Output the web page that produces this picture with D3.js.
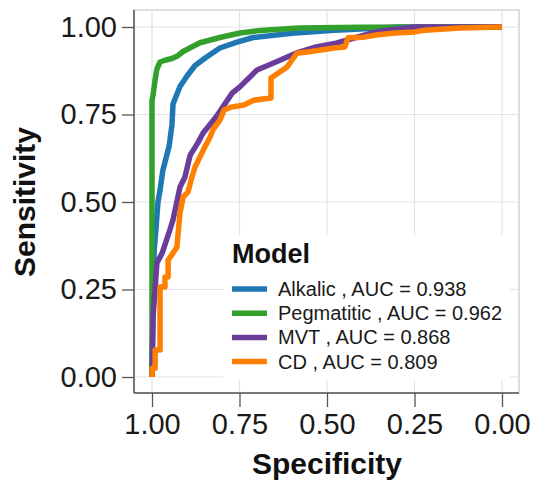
<!DOCTYPE html>
<html>
<head>
<meta charset="utf-8">
<script src="https://cdn.jsdelivr.net/npm/d3@7"></script>
<style>
  body { margin: 0; background: #fff; }
  svg { display: block; font-family: "Liberation Sans", Arial, sans-serif; }
</style>
</head>
<body>
<svg id="chart" width="533" height="484"></svg>
<script>
// tick values for both axes
const ticks = [0, 0.25, 0.5, 0.75, 1];

// model names and AUC values for the legend
const models = ["Alkalic", "Pegmatitic", "MVT", "CD"];
const aucs = [0.938, 0.962, 0.868, 0.809];
const colors = ["#1f78b4", "#33a02c", "#6a3d9a", "#ff7f00"];

// ROC points (specificity, sensitivity)
const alkalicSpec = [1, 0.997, 0.994, 0.989, 0.983, 0.977, 0.969, 0.951, 0.943, 0.94, 0.92, 0.9, 0.877, 0.843, 0.806, 0.757, 0.711, 0.6, 0.49, 0.35, 0.3, 0];
const alkalicSens = [0, 0.2, 0.36, 0.42, 0.5, 0.534, 0.59, 0.66, 0.72, 0.78, 0.83, 0.86, 0.89, 0.915, 0.94, 0.957, 0.97, 0.982, 0.99, 0.997, 1, 1];

const pegSpec = [1, 1, 0.997, 0.991, 0.986, 0.977, 0.963, 0.943, 0.926, 0.911, 0.863, 0.806, 0.749, 0.691, 0.58, 0.4, 0];
const pegSens = [0, 0.79, 0.805, 0.85, 0.88, 0.9, 0.905, 0.91, 0.918, 0.93, 0.955, 0.97, 0.983, 0.99, 0.997, 0.999, 1];

const mvtSpec = [1, 0.997, 0.986, 0.971, 0.949, 0.94, 0.92, 0.906, 0.891, 0.869, 0.854, 0.817, 0.771, 0.749, 0.7, 0.646, 0.589, 0.531, 0.474, 0.417, 0.36, 0.331, 0.25, 0];
const mvtSens = [0, 0.17, 0.326, 0.354, 0.42, 0.449, 0.543, 0.571, 0.634, 0.669, 0.697, 0.743, 0.811, 0.829, 0.877, 0.9, 0.925, 0.943, 0.954, 0.97, 0.986, 0.99, 1, 1];

const cdSpec = [1, 1, 0.991, 0.991, 0.977, 0.977, 0.963, 0.963, 0.954, 0.954, 0.94, 0.929, 0.92, 0.911, 0.897, 0.886, 0.877, 0.863, 0.849, 0.834, 0.826, 0.806, 0.794, 0.774, 0.737, 0.709, 0.66, 0.66, 0.614, 0.586, 0.546, 0.48, 0.449, 0.44, 0.394, 0.36, 0.306, 0.249, 0.22, 0.12, 0];
const cdSens = [0, 0.025, 0.025, 0.077, 0.077, 0.257, 0.257, 0.286, 0.286, 0.334, 0.354, 0.371, 0.469, 0.514, 0.529, 0.571, 0.6, 0.629, 0.657, 0.686, 0.706, 0.734, 0.763, 0.771, 0.777, 0.791, 0.797, 0.854, 0.886, 0.925, 0.93, 0.94, 0.943, 0.969, 0.971, 0.977, 0.983, 0.986, 0.991, 0.997, 1];

const series = [
  { spec: alkalicSpec, sens: alkalicSens },
  { spec: pegSpec, sens: pegSens },
  { spec: mvtSpec, sens: mvtSens },
  { spec: cdSpec, sens: cdSens }
];

const svg = d3.select("#chart");

// panel edges
const panel = { left: 134, top: 10, right: 519, bottom: 393 };

const x = d3.scaleLinear().domain([1, 0]).range([152, 502]);
const y = d3.scaleLinear().domain([0, 1]).range([377, 27]);

// panel border (light) 
svg.append("rect")
  .attr("x", panel.left).attr("y", panel.top)
  .attr("width", panel.right - panel.left).attr("height", panel.bottom - panel.top)
  .attr("fill", "#fff").attr("stroke", "#c8c8c8").attr("stroke-width", 1.2);

// grid lines
svg.append("g").selectAll("line").data(ticks).join("line")
  .attr("x1", d => x(d)).attr("x2", d => x(d))
  .attr("y1", panel.top).attr("y2", panel.bottom)
  .attr("stroke", "#e3e3e3").attr("stroke-width", 1.2);
svg.append("g").selectAll("line").data(ticks).join("line")
  .attr("y1", d => y(d)).attr("y2", d => y(d))
  .attr("x1", panel.left).attr("x2", panel.right)
  .attr("stroke", "#e3e3e3").attr("stroke-width", 1.2);

// curves
let lineFunc = d3.line()
  .x(d => x(d[0]))
  .y(d => y(d[1]));

series.forEach((s, i) => {
  let pts = s.spec.map((v, j) => [v, s.sens[j]]);
  svg.append("path")
    .attr("d", lineFunc(pts))
    .attr("fill", "none")
    .attr("stroke", colors[i])
    .attr("stroke-width", 5.5)
    .attr("stroke-linejoin", "round");
});

// axes
const xAxis = svg.append("g")
  .attr("transform", `translate(0,${panel.bottom})`)
  .call(d3.axisBottom(x).tickValues(ticks).tickFormat(d3.format(".2f")).tickSize(14).tickPadding(6).tickSizeOuter(0));
const yAxis = svg.append("g")
  .attr("transform", `translate(${panel.left},0)`)
  .call(d3.axisLeft(y).tickValues(ticks).tickFormat(d3.format(".2f")).tickSize(12).tickPadding(5).tickSizeOuter(0));

[xAxis, yAxis].forEach(ax => {
  ax.select(".domain").remove();
  ax.selectAll(".tick line").attr("stroke", "#555").attr("stroke-width", 1.3);
  ax.selectAll(".tick text").attr("font-size", 29).attr("fill", "#1a1a1a")
    .attr("font-family", "'Liberation Sans', Arial, sans-serif");
});

// axis lines on left and bottom
svg.append("line")
  .attr("x1", panel.left).attr("x2", panel.left)
  .attr("y1", panel.top).attr("y2", panel.bottom)
  .attr("stroke", "#555").attr("stroke-width", 1.5);
svg.append("line")
  .attr("x1", panel.left).attr("x2", panel.right)
  .attr("y1", panel.bottom).attr("y2", panel.bottom)
  .attr("stroke", "#555").attr("stroke-width", 1.5);

// axis titles
svg.append("text")
  .attr("x", (x(1) + x(0)) / 2).attr("y", 474)
  .attr("text-anchor", "middle")
  .attr("font-size", 30).attr("font-weight", "bold").attr("fill", "#111")
  .text("Specificity");
svg.append("text")
  .attr("transform", `translate(35,${(y(0) + y(1)) / 2}) rotate(-90)`)
  .attr("text-anchor", "middle")
  .attr("font-size", 30).attr("font-weight", "bold").attr("fill", "#111")
  .text("Sensitivity");

// legend
const legend = svg.append("g");
legend.append("rect")
  .attr("x", 223).attr("y", 235).attr("width", 287).attr("height", 145)
  .attr("fill", "#fff");
legend.append("text")
  .attr("x", 232).attr("y", 263)
  .attr("font-size", 27).attr("font-weight", "bold").attr("fill", "#111")
  .text("Model");
models.forEach((m, i) => {
  let ry = 289 + i * 24.2;
  legend.append("line")
    .attr("x1", 232).attr("x2", 267)
    .attr("y1", ry).attr("y2", ry)
    .attr("stroke", colors[i]).attr("stroke-width", 5.5);
  legend.append("text")
    .attr("x", 278).attr("y", ry)
    .attr("dy", "0.35em")
    .attr("font-size", 20).attr("fill", "#1a1a1a")
    .text(m + " , AUC = " + aucs[i].toFixed(3));
});
</script>
</body>
</html>
